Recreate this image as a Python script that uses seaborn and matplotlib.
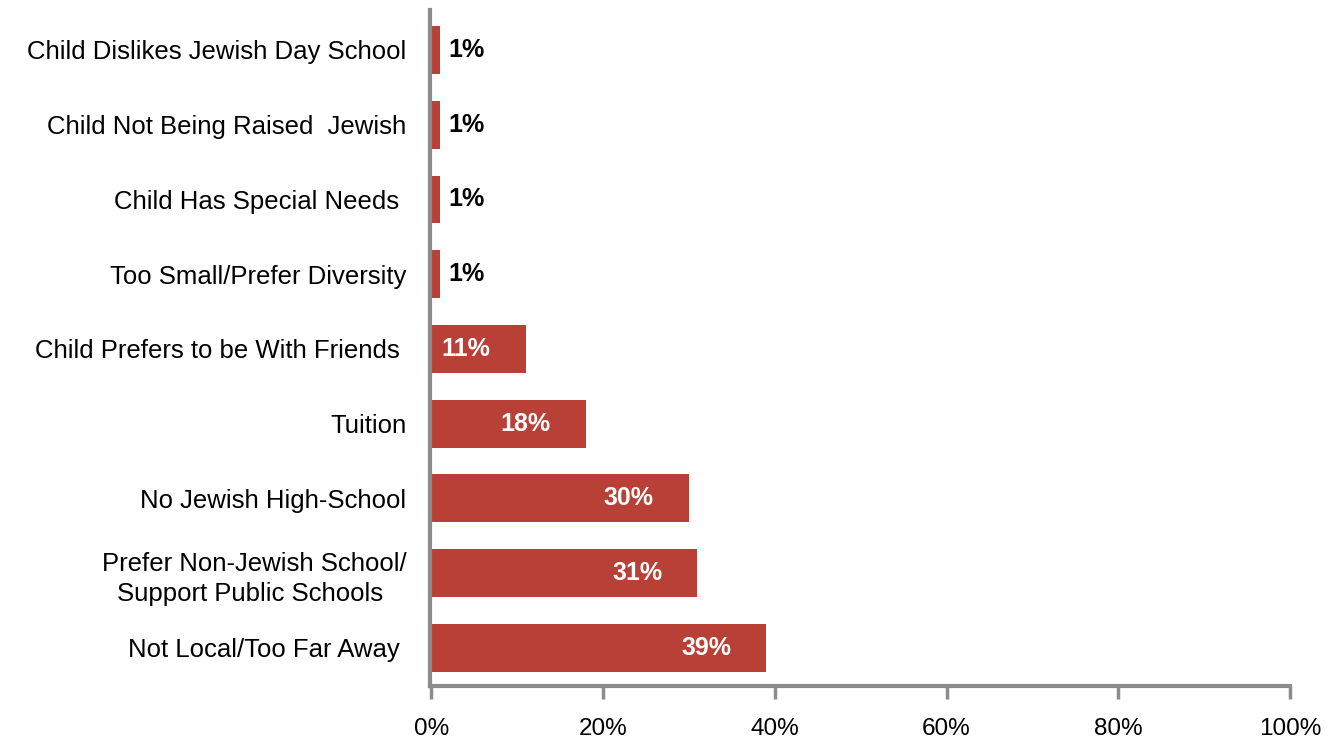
import matplotlib
matplotlib.use("Agg")
import matplotlib.pyplot as plt
import seaborn as sns
import pandas as pd

categories = [
    "Child Dislikes Jewish Day School",
    "Child Not Being Raised  Jewish",
    "Child Has Special Needs ",
    "Too Small/Prefer Diversity",
    "Child Prefers to be With Friends ",
    "Tuition",
    "No Jewish High-School",
    "Prefer Non-Jewish School/\nSupport Public Schools ",
    "Not Local/Too Far Away ",
]
values = [1, 1, 1, 1, 11, 18, 30, 31, 39]
xticks = [0, 20, 40, 60, 80, 100]
xtick_labels = ["0%", "20%", "40%", "60%", "80%", "100%"]

df = pd.DataFrame({"reason": categories, "pct": values})

sns.set_theme(style="white")
plt.rcParams["font.family"] = ["Liberation Sans", "DejaVu Sans"]

bar_color = "#B94036"
spine_color = "#8C8C8C"

fig = plt.figure(figsize=(13.38, 7.40), dpi=100)
ax = fig.add_axes([430 / 1338, 1 - 686 / 740, 860 / 1338, 676 / 740])

sns.barplot(data=df, x="pct", y="reason", orient="h", color=bar_color,
            saturation=1, width=0.64, ax=ax, edgecolor="none")

ax.set_xlim(-0.15, 100)
ax.set_ylim(len(categories) - 0.49, -0.535)
ax.set_xticks(xticks)
ax.set_xticklabels(xtick_labels, fontsize=17.5, color="black")
ax.set_xlabel("")
ax.set_ylabel("")
ax.tick_params(axis="x", bottom=True, direction="out", length=9, width=2.5,
               color=spine_color, pad=14)
ax.tick_params(axis="y", left=False, length=0, pad=17, labelsize=18.5,
               labelcolor="black")
for lbl in ax.get_yticklabels():
    lbl.set_multialignment("center")
    lbl.set_linespacing(1.35)

for side in ("top", "right"):
    ax.spines[side].set_visible(False)
for side in ("left", "bottom"):
    ax.spines[side].set_color(spine_color)
    ax.spines[side].set_linewidth(3)

for i, v in enumerate(values):
    if v < 5:
        ax.text(v + 1.0, i, f"{v}%", ha="left", va="center", fontsize=18,
                fontweight="bold", color="black")
    else:
        ax.text(v - 7, i, f"{v}%", ha="center", va="center", fontsize=18,
                fontweight="bold", color="white")

fig.savefig("out.png", dpi=100)
